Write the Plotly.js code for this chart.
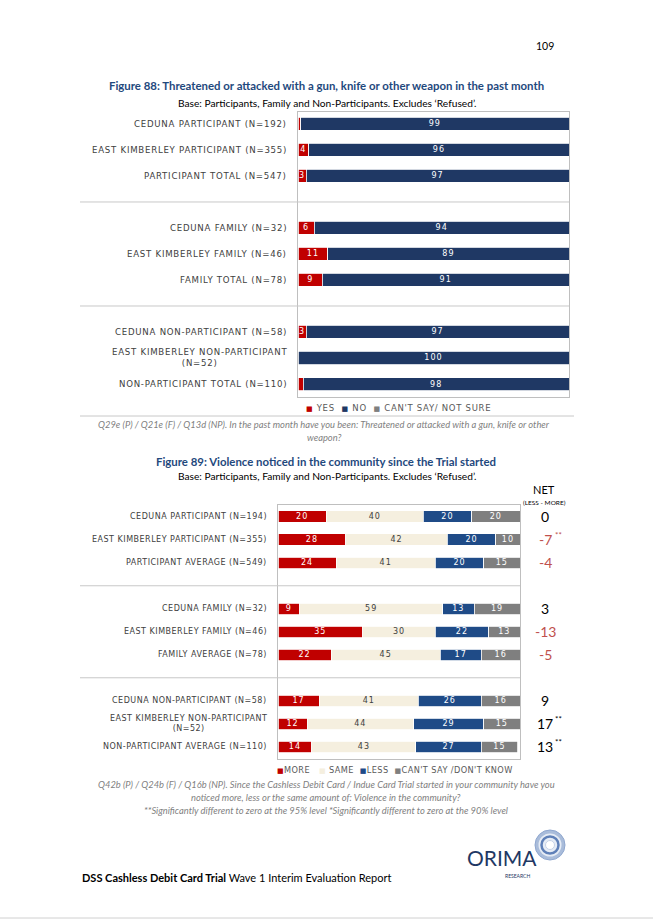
<!DOCTYPE html>
<html><head><meta charset="utf-8">
<script src="https://cdn.plot.ly/plotly-3.0.1.min.js"></script>
<style>html,body{margin:0;padding:0;background:#fff}</style>
</head><body>
<div id="chart" style="width:653px;height:923px"></div>
<script>
const W = 653, H = 923;

// ---- Figure 88 data ----
const cats88 = ["CEDUNA PARTICIPANT (N=192)", "EAST KIMBERLEY PARTICIPANT (N=355)", "PARTICIPANT TOTAL (N=547)",
  "CEDUNA FAMILY (N=32)", "EAST KIMBERLEY FAMILY (N=46)", "FAMILY TOTAL (N=78)",
  "CEDUNA NON-PARTICIPANT (N=58)", "EAST KIMBERLEY NON-PARTICIPANT<br>(N=52)", "NON-PARTICIPANT TOTAL (N=110)"];
const yes88 = [1, 4, 3, 6, 11, 9, 3, 0, 2];
const no88 = [99, 96, 97, 94, 89, 91, 97, 100, 98];
const cantSay88 = [0, 0, 0, 0, 0, 0, 0, 0, 0];
const legend88 = ["YES", "NO", "CAN'T SAY/ NOT SURE"];

// ---- Figure 89 data ----
const cats89 = ["CEDUNA PARTICIPANT (N=194)", "EAST KIMBERLEY PARTICIPANT (N=355)", "PARTICIPANT AVERAGE (N=549)",
  "CEDUNA FAMILY (N=32)", "EAST KIMBERLEY FAMILY (N=46)", "FAMILY AVERAGE (N=78)",
  "CEDUNA NON-PARTICIPANT (N=58)", "EAST KIMBERLEY NON-PARTICIPANT<br>(N=52)", "NON-PARTICIPANT AVERAGE (N=110)"];
const more89 = [20, 28, 24, 9, 35, 22, 17, 12, 14];
const same89 = [40, 42, 41, 59, 30, 45, 41, 44, 43];
const less89 = [20, 20, 20, 13, 22, 17, 26, 29, 27];
const cantSay89 = [20, 10, 15, 19, 13, 16, 16, 15, 15];
const net89 = [0, -7, -4, 3, -13, -5, 9, 17, 13];
const netSig89 = ["", "**", "", "", "", "", "", "**", "**"];
const legend89 = ["MORE", "SAME", "LESS", "CAN'T SAY /DON'T KNOW"];

// ---- styling ----
const RED = "#C00000", NAVY = "#1F3864", BLUE = "#1F4B87", BEIGE = "#F5EFDF", GREY = "#7F7F7F";
const LBL = "DejaVu Sans";
const px = x => x / W;
const py = y => 1 - y / H;
const GROUP = 3;
const pos = i => i + Math.floor(i / GROUP);  // slot index with a blank slot between groups
const rows = n => Array.from({length: n}, (_, i) => pos(i));
const spaced = (s, ls) => s.split("<br>").map(p => `<span style="letter-spacing:${ls}px">${p}</span>`).join("<br>");

function barTrace(vals, color, ax, name, txtColor, hideSmall) {
  return {
    type: "bar", orientation: "h", name: name,
    x: vals, y: rows(vals.length),
    xaxis: ax[0], yaxis: ax[1],
    marker: {color: color, line: {color: "#ffffff", width: 0.8}},
    text: vals.map(v => (hideSmall && v < 3) || v === 0 ? "" : spaced(String(v), 1)),
    textposition: "inside", insidetextanchor: "middle", textangle: 0,
    constraintext: "none",
    textfont: {family: LBL, size: 8, color: txtColor},
    hoverinfo: "skip", showlegend: false
  };
}

const data = [
  barTrace(yes88, RED, ["x", "y"], legend88[0], "#ffffff", true),
  barTrace(no88, NAVY, ["x", "y"], legend88[1], "#ffffff", true),
  barTrace(cantSay88, GREY, ["x", "y"], legend88[2], "#ffffff", true),
  barTrace(more89, RED, ["x2", "y2"], legend89[0], "#ffffff", false),
  barTrace(same89, BEIGE, ["x2", "y2"], legend89[1], "#404040", false),
  barTrace(less89, BLUE, ["x2", "y2"], legend89[2], "#ffffff", false),
  barTrace(cantSay89, GREY, ["x2", "y2"], legend89[3], "#ffffff", false)
];

const axisX = dom => ({domain: dom, range: [0, 100], showline: true, mirror: true, linecolor: "#BFBFBF", linewidth: 1,
  showgrid: false, zeroline: false, showticklabels: false, ticks: "", fixedrange: true});
const axisY = (dom, r) => ({domain: dom, range: r, showline: true, mirror: true, linecolor: "#BFBFBF", linewidth: 1,
  showgrid: false, zeroline: false, showticklabels: false, ticks: "", fixedrange: true});

const ann = [];
const shapes = [];
function txt(x, y, text, size, color, opts) {
  ann.push(Object.assign({xref: "paper", yref: "paper", x: px(x), y: py(y), text: text, showarrow: false,
    font: {family: "Lato", size: size, color: color}, xanchor: "center", yanchor: "middle"}, opts || {}));
}

// page number
txt(545, 46, "109", 10.5, "#000000");

// Figure 88 titles
txt(326, 86, "<b>Figure 88: Threatened or attacked with a gun, knife or other weapon in the past month</b>", 11.4, "#1F497D");
txt(327, 103, "Base: Participants, Family and Non-Participants. Excludes \u2018Refused\u2019.", 10.2, "#000000");

// Figure 88 category labels
cats88.forEach((c, i) => ann.push({xref: "paper", yref: "y", x: px(289), y: pos(i), text: spaced(c, 0.75), showarrow: false,
  xanchor: "right", yanchor: "middle", align: "center", font: {family: LBL, size: 8.6, color: "#404040"}}));
// separators figure 88
[3, 7].forEach(s => shapes.push({type: "line", xref: "paper", yref: "y", x0: px(80), x1: px(569), y0: s, y1: s,
  line: {color: "#C8C8C8", width: 1}}));
// legend 88
const sq = c => `<span style="color:${c};font-size:7px">\u25A0</span>`;
txt(398, 408, spaced(`${sq(RED)} ${legend88[0]}  ${sq(NAVY)} ${legend88[1]}  ${sq(GREY)} ${legend88[2]}`, 0.7), 8.5, "#595959", {font: {family: LBL, size: 8.5, color: "#595959"}});
shapes.push({type: "line", xref: "paper", yref: "paper", x0: px(80), x1: px(574), y0: py(416), y1: py(416), line: {color: "#C8C8C8", width: 1}});
txt(324, 424, "<i>Q29e (P) / Q21e (F) / Q13d (NP). In the past month have you been: Threatened or attacked with a gun, knife or other</i>", 9.35, "#7F7F7F");
txt(324, 437, "<i>weapon?</i>", 9.35, "#7F7F7F");

// Figure 89 titles
txt(326, 461, "<b>Figure 89: Violence noticed in the community since the Trial started</b>", 11.4, "#1F497D");
txt(327, 476, "Base: Participants, Family and Non-Participants. Excludes \u2018Refused\u2019.", 10.2, "#000000");
txt(544, 489, "NET", 11, "#000000");
txt(544, 502, "(LESS - MORE)", 6.5, "#000000");

cats89.forEach((c, i) => ann.push({xref: "paper", yref: "y2", x: px(269), y: pos(i), text: spaced(c, 0.5), showarrow: false,
  xanchor: "right", yanchor: "middle", align: "center", font: {family: LBL, size: 8, color: "#404040"}}));
[3, 7].forEach(s => shapes.push({type: "line", xref: "paper", yref: "y2", x0: px(80), x1: px(520), y0: s, y1: s,
  line: {color: "#C8C8C8", width: 1}}));
net89.forEach((v, i) => {
  ann.push({xref: "paper", yref: "y2", x: px(545), y: pos(i), text: String(v), showarrow: false,
    xanchor: "center", yanchor: "middle", font: {family: "Lato", size: 14, color: v < 0 ? "#C0504D" : "#000000"}});
  if (netSig89[i]) ann.push({xref: "paper", yref: "y2", x: px(553), y: pos(i), yshift: 5, text: netSig89[i], showarrow: false,
    xanchor: "left", yanchor: "middle", font: {family: "Lato", size: 8, color: v < 0 ? "#C0504D" : "#000000"}});
});
txt(395, 770, spaced(`${sq(RED)}${legend89[0]}   ${sq(BEIGE)} ${legend89[1]}  ${sq(BLUE)}${legend89[2]}  ${sq(GREY)}${legend89[3]}`, 0.4), 8.5, "#595959", {font: {family: LBL, size: 8.2, color: "#595959"}});
txt(326, 784, "<i>Q42b (P) / Q24b (F) / Q16b (NP). Since the Cashless Debit Card / Indue Card Trial started in your community have you</i>", 9.35, "#7F7F7F");
txt(326, 797, "<i>noticed more, less or the same amount of: Violence in the community?</i>", 9.35, "#7F7F7F");
txt(326, 810, "<i>**Significantly different to zero at the 95% level *Significantly different to zero at the 90% level</i>", 9.35, "#7F7F7F");

// footer
txt(80, 877, "<b>DSS Cashless Debit Card Trial</b> Wave 1 Interim Evaluation Report", 11, "#000000", {xanchor: "left"});
txt(502, 857, "ORIMA", 21, "#1F3864");
txt(517, 875.5, "RESEARCH", 5, "#1F3864");
// logo rings
const circ = (cx, cy, r, fill, lc, lw) => shapes.push({type: "circle", xref: "paper", yref: "paper",
  x0: px(cx - r), x1: px(cx + r), y0: py(cy + r), y1: py(cy - r), fillcolor: fill, line: {color: lc, width: lw}});
circ(550, 845, 15, "#A9BCDA", "#8FA7CF", 1);
circ(550, 845, 11.5, "#E6ECF5", "#E6ECF5", 0);
circ(550, 845, 8.5, "rgba(0,0,0,0)", "#5F80B8", 2.5);
circ(550, 845, 4.5, "#FFFFFF", "#C5D2E8", 1);
shapes.push({type: "line", xref: "paper", yref: "paper", x0: 0, x1: 1, y0: py(918), y1: py(918), line: {color: "#D0D0D0", width: 1}});

const layout = {
  width: W, height: H, margin: {l: 0, r: 0, t: 0, b: 0},
  paper_bgcolor: "#ffffff", plot_bgcolor: "#ffffff",
  barmode: "stack", bargap: 0.5, showlegend: false,
  xaxis: axisX([px(298), px(569)]),
  yaxis: axisY([py(397), py(112)], [10.5, -0.46]),
  xaxis2: Object.assign(axisX([px(278), px(520)]), {anchor: "y2"}),
  yaxis2: Object.assign(axisY([py(759), py(505)], [10.53, -0.51]), {anchor: "x2"}),
  annotations: ann, shapes: shapes,
  font: {family: "Lato"}
};
Plotly.newPlot("chart", data, layout, {displayModeBar: false, staticPlot: true});
</script>
</body></html>
